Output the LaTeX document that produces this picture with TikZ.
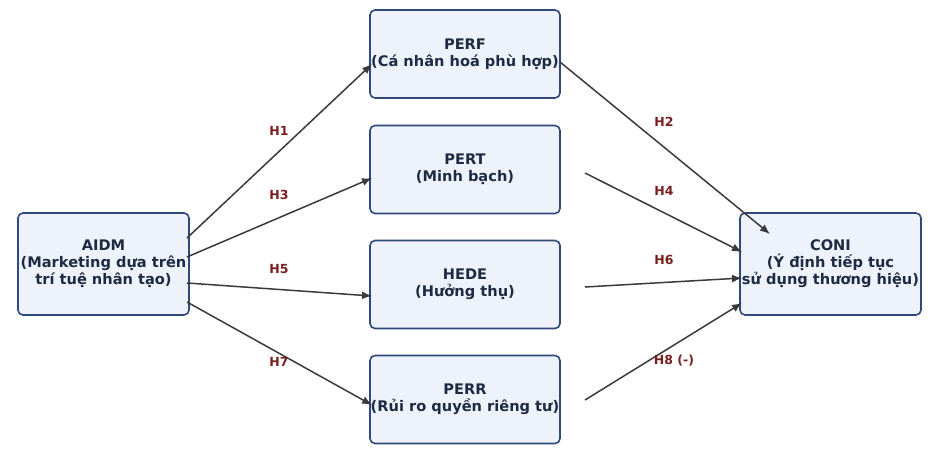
\documentclass[tikz,border=0pt]{standalone}
\usepackage{fontspec}
\setmainfont{DejaVu Sans}
\usetikzlibrary{arrows.meta}
\definecolor{boxfill}{HTML}{EDF2FB}
\definecolor{boxdraw}{HTML}{2F4A7A}
\definecolor{txt}{HTML}{1F2A44}
\definecolor{lab}{HTML}{7A1F1F}
\definecolor{edge}{HTML}{3A3A3A}
\begin{document}
\begin{tikzpicture}[x=1pt,y=-1pt,
 box/.style={draw=boxdraw,line width=1.6pt,fill=boxfill,rounded corners=5pt,text=txt,font=\bfseries\fontsize{14.6}{17}\selectfont,align=center,inner sep=0pt},
 arr/.style={draw=edge,line width=1.5pt,-{Latex[length=10pt,width=8pt]}},
 lbl/.style={text=lab,font=\bfseries\fontsize{12.5}{15}\selectfont}]
\useasboundingbox (0,0) rectangle (936,455);
\node[box,minimum width=171,minimum height=102] (aidm) at (103.5,264) {AIDM\\(Marketing dựa trên\\trí tuệ nhân tạo)};
\node[box,minimum width=190,minimum height=88] (perf) at (465,54) {PERF\\(Cá nhân hoá phù hợp)};
\node[box,minimum width=190,minimum height=88] (pert) at (465,169.5) {PERT\\(Minh bạch)};
\node[box,minimum width=190,minimum height=88] (hede) at (465,284.5) {HEDE\\(Hưởng thụ)};
\node[box,minimum width=190,minimum height=88] (perr) at (465,399.5) {PERR\\(Rủi ro quyền riêng tư)};
\node[box,minimum width=181,minimum height=102] (coni) at (830.5,264) {CONI\\(Ý định tiếp tục\\sử dụng thương hiệu)};
\coordinate (a1) at (187,238); \coordinate (a2) at (187,257);
\coordinate (a3) at (187,283); \coordinate (a4) at (187,302);
\coordinate (p1) at (372,64); \coordinate (p2) at (372,178);
\coordinate (p3) at (372,296); \coordinate (p4) at (372,405);
\coordinate (q1) at (560,62); \coordinate (q2) at (585,173);
\coordinate (q3) at (585,287); \coordinate (q4) at (585,400);
\coordinate (c1) at (770,234); \coordinate (c2) at (742,252);
\coordinate (c3) at (742,278); \coordinate (c4) at (742,303);
\draw[arr] (a1) -- (p1); \draw[arr] (a2) -- (p2);
\draw[arr] (a3) -- (p3); \draw[arr] (a4) -- (p4);
\draw[arr] (q1) -- (c1); \draw[arr] (q2) -- (c2);
\draw[arr] (q3) -- (c3); \draw[arr] (q4) -- (c4);
\node[lbl] (h1) at (279,131) {H1};
\node[lbl] (h3) at (279,195) {H3};
\node[lbl] (h5) at (279,269) {H5};
\node[lbl] (h7) at (279,362) {H7};
\node[lbl] (h2) at (664,122) {H2};
\node[lbl] (h4) at (664,191) {H4};
\node[lbl] (h6) at (664,260) {H6};
\node[lbl] (h8) at (674,361) {H8 (-)};
\end{tikzpicture}
\end{document}
